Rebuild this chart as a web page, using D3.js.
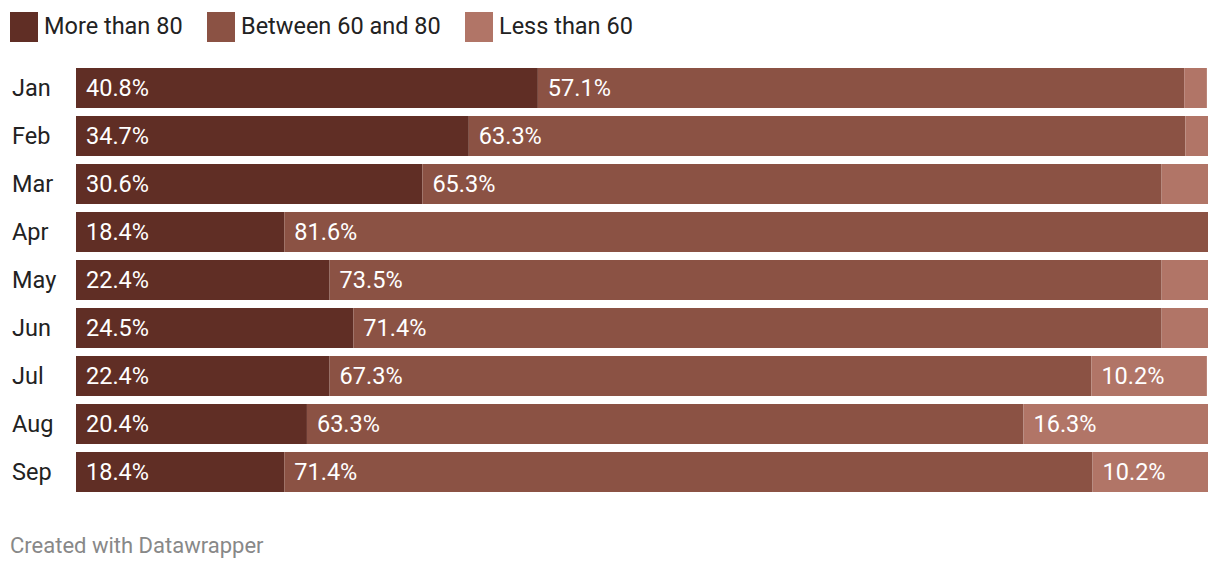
<!DOCTYPE html>
<html><head><meta charset="utf-8">
<script src="https://cdn.jsdelivr.net/npm/d3@7"></script>
<style>body{margin:0;background:#fff;font-family:Roboto,"Noto Sans",sans-serif;}</style>
</head><body>
<svg id="c" width="1220" height="570"></svg>
<script>
const months = ["Jan","Feb","Mar","Apr","May","Jun","Jul","Aug","Sep"];
const seriesNames = ["More than 80","Between 60 and 80","Less than 60"];
const moreThan80 = [40.8,34.7,30.6,18.4,22.4,24.5,22.4,20.4,18.4];
const between60and80 = [57.1,63.3,65.3,81.6,73.5,71.4,67.3,63.3,71.4];
const lessThan60 = [2.0,2.0,4.1,0,4.1,4.1,10.2,16.3,10.2];
const colors = ["#602e25","#8b5244","#b17567"];
const labelMin = 8;

const svg = d3.select("#c");
const x = d3.scaleLinear().domain([0,100]).range([76,1208]);
const y = d3.scaleBand().domain(months).range([68,492]).paddingInner(1/6).paddingOuter(0);

const rows = months.map((m,i)=>({m, vals:[moreThan80[i],between60and80[i],lessThan60[i]]}));
const stackData = rows.map(r=>{let c=0; return r.vals.map((v,k)=>{const s={m:r.m,k,v,x0:c,x1:c+v}; c+=v; return s;});});

const g = svg.append("g");
stackData.flat().forEach(d=>{
  if(d.v<=0) return;
  g.append("rect").attr("x",x(d.x0)).attr("y",y(d.m)).attr("width",x(d.x1)-x(d.x0)).attr("height",y.bandwidth()).attr("fill",colors[d.k]);
  if(d.v>=labelMin){
    g.append("text").attr("x",x(d.x0)+10).attr("y",y(d.m)+y.bandwidth()/2).attr("dy","0.35em")
      .attr("fill","#fff").attr("font-size",23.5).text(d.v.toFixed(1)+"%");
  }
});
months.forEach(m=>{
  svg.append("text").attr("x",12).attr("y",y(m)+y.bandwidth()/2).attr("dy","0.35em")
    .attr("fill","#222").attr("font-size",23.5).text(m);
});
const legX = [10,207,465];
seriesNames.forEach((s,i)=>{
  svg.append("rect").attr("x",legX[i]).attr("y",12).attr("width",28).attr("height",30).attr("fill",colors[i]);
  svg.append("text").attr("x",legX[i]+34).attr("y",26).attr("dy","0.35em").attr("fill","#222").attr("font-size",23.5).text(s);
});
svg.append("text").attr("x",10).attr("y",545).attr("dy","0.35em").attr("fill","#888").attr("font-size",22).text("Created with Datawrapper");
</script>
</body></html>
